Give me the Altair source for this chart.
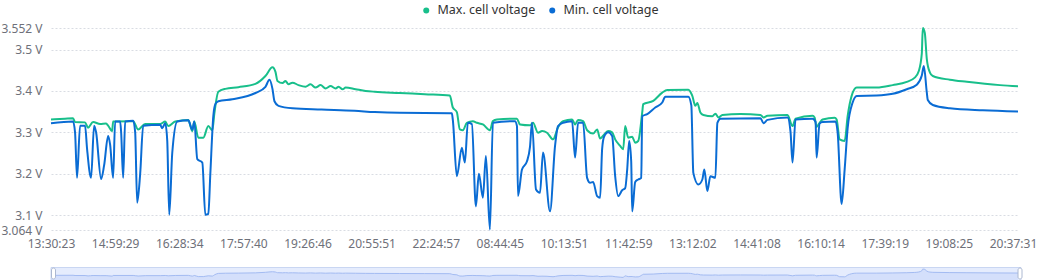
import altair as alt
import pandas as pd

FONT = "Noto Sans"

TIME_LABELS = ["13:30:23", "14:59:29", "16:28:34", "17:57:40", "19:26:46", "20:55:51",
               "22:24:57", "08:44:45", "10:13:51", "11:42:59", "13:12:02", "14:41:08",
               "16:10:14", "17:39:19", "19:08:25", "20:37:31"]
LABEL_STEP = 64          # samples between two time labels
X_MAX = 965              # last sample index
Y_MIN, Y_MAX = 3.064, 3.552
Y_TICKS = [3.064, 3.1, 3.2, 3.3, 3.4, 3.5, 3.552]

SERIES = ["Max. cell voltage", "Min. cell voltage"]
COLORS = ["#18bf8b", "#0a6cd4"]

MAX_IDX = [0, 14, 22, 24, 34, 37, 42, 49, 55, 57, 61, 62, 82, 87, 94, 109, 114, 117, 124, 137,
           141, 143, 147, 152, 157, 161, 163, 167, 174, 187, 204, 214, 221, 224, 226, 231, 234,
           237, 241, 247, 254, 259, 264, 269, 274, 279, 284, 287, 291, 294, 304, 314, 323, 348,
           373, 398, 401, 405, 408, 411, 415, 421, 425, 431, 438, 441, 445, 465, 468, 478, 481,
           486, 490, 495, 501, 506, 511, 520, 523, 526, 531, 535, 541, 545, 548, 551, 556, 560,
           563, 568, 571, 573, 576, 580, 583, 586, 590, 591, 601, 610, 615, 636, 640, 643, 645,
           648, 651, 660, 663, 666, 670, 688, 708, 711, 715, 735, 740, 743, 760, 762, 764, 767,
           770, 782, 784, 787, 792, 795, 799, 804, 824, 840, 854, 862, 866, 869, 870, 872, 874,
           877, 880, 897, 914, 947, 965]
MAX_V = [3.331, 3.333, 3.334, 3.325, 3.324, 3.311, 3.325, 3.320, 3.321, 3.316, 3.303, 3.326,
         3.327, 3.307, 3.320, 3.320, 3.326, 3.315, 3.326, 3.330, 3.303, 3.326, 3.287, 3.287,
         3.315, 3.305, 3.345, 3.398, 3.405, 3.409, 3.417, 3.436, 3.457, 3.446, 3.424, 3.419,
         3.424, 3.416, 3.420, 3.414, 3.410, 3.416, 3.408, 3.414, 3.406, 3.412, 3.406, 3.410,
         3.404, 3.408, 3.404, 3.400, 3.398, 3.395, 3.392, 3.389, 3.360, 3.349, 3.307, 3.305,
         3.323, 3.327, 3.323, 3.319, 3.305, 3.327, 3.331, 3.333, 3.319, 3.317, 3.323, 3.299,
         3.303, 3.299, 3.283, 3.312, 3.327, 3.331, 3.319, 3.330, 3.327, 3.305, 3.297, 3.307,
         3.285, 3.292, 3.303, 3.300, 3.283, 3.267, 3.259, 3.315, 3.287, 3.289, 3.275, 3.279,
         3.348, 3.368, 3.376, 3.396, 3.402, 3.403, 3.388, 3.364, 3.371, 3.348, 3.342, 3.339,
         3.345, 3.336, 3.342, 3.344, 3.342, 3.336, 3.340, 3.342, 3.315, 3.333, 3.340, 3.336,
         3.313, 3.323, 3.331, 3.335, 3.331, 3.283, 3.279, 3.339, 3.388, 3.408, 3.408, 3.414,
         3.422, 3.432, 3.448, 3.490, 3.552, 3.540, 3.477, 3.445, 3.436, 3.427, 3.422, 3.414,
         3.411]

MIN_IDX = [0, 22, 24, 26, 29, 34, 36, 40, 43, 45, 50, 53, 57, 59, 62, 64, 69, 70, 72, 74, 82,
           84, 86, 89, 92, 109, 111, 114, 116, 118, 121, 126, 137, 141, 143, 146, 151, 154, 157,
           159, 162, 164, 167, 181, 204, 214, 218, 221, 223, 227, 241, 270, 303, 323, 348, 398,
           400, 401, 405, 410, 413, 416, 420, 424, 427, 431, 434, 438, 441, 463, 465, 466, 470,
           475, 478, 480, 484, 488, 491, 498, 503, 506, 511, 520, 523, 526, 531, 535, 538, 541,
           545, 548, 550, 552, 556, 560, 563, 566, 570, 573, 575, 577, 579, 580, 583, 586, 589,
           590, 595, 603, 610, 613, 636, 639, 641, 646, 650, 652, 655, 658, 663, 665, 668, 708,
           711, 715, 735, 738, 740, 743, 760, 763, 764, 767, 770, 783, 785, 789, 792, 795, 800,
           804, 824, 840, 854, 864, 869, 871, 874, 875, 880, 897, 930, 965]
MIN_V = [3.322, 3.326, 3.300, 3.190, 3.316, 3.316, 3.260, 3.190, 3.316, 3.300, 3.187, 3.220,
         3.291, 3.270, 3.190, 3.326, 3.326, 3.300, 3.190, 3.326, 3.328, 3.300, 3.130, 3.200,
         3.316, 3.318, 3.310, 3.322, 3.280, 3.101, 3.250, 3.326, 3.329, 3.306, 3.326, 3.235,
         3.227, 3.101, 3.103, 3.200, 3.340, 3.368, 3.375, 3.380, 3.395, 3.410, 3.427, 3.405,
         3.375, 3.364, 3.358, 3.355, 3.352, 3.349, 3.347, 3.346, 3.346, 3.330, 3.194, 3.263,
         3.227, 3.323, 3.320, 3.121, 3.200, 3.142, 3.243, 3.065, 3.323, 3.327, 3.315, 3.146,
         3.210, 3.230, 3.265, 3.323, 3.162, 3.154, 3.251, 3.109, 3.267, 3.315, 3.323, 3.327,
         3.239, 3.323, 3.323, 3.190, 3.178, 3.180, 3.146, 3.142, 3.260, 3.290, 3.300, 3.291,
         3.194, 3.146, 3.160, 3.165, 3.210, 3.279, 3.230, 3.109, 3.180, 3.186, 3.190, 3.339,
         3.344, 3.360, 3.372, 3.386, 3.386, 3.365, 3.202, 3.174, 3.186, 3.210, 3.158, 3.194,
         3.190, 3.323, 3.333, 3.334, 3.322, 3.330, 3.336, 3.301, 3.227, 3.331, 3.333, 3.325,
         3.239, 3.321, 3.325, 3.326, 3.300, 3.127, 3.210, 3.310, 3.372, 3.388, 3.389, 3.393,
         3.404, 3.415, 3.437, 3.460, 3.396, 3.378, 3.366, 3.358, 3.353, 3.350]

df = pd.concat([
    pd.DataFrame({"idx": MAX_IDX, "v": MAX_V, "series": SERIES[0]}),
    pd.DataFrame({"idx": MIN_IDX, "v": MIN_V, "series": SERIES[1]}),
], ignore_index=True)

label_expr = "[" + ",".join("'%s'" % t for t in TIME_LABELS) + "][round(datum.value / %d)]" % LABEL_STEP

x_scale = alt.Scale(domain=[0, X_MAX], nice=False, zero=False)
x_axis = alt.Axis(values=[i * LABEL_STEP for i in range(len(TIME_LABELS))], labelExpr=label_expr,
                  grid=False, domain=False, ticks=False, tickSize=0, labelPadding=8,
                  labelFontSize=12, labelColor="#6e7079", labelFont=FONT, title=None,
                  labelOverlap=False, labelFlush=False)
y_scale = alt.Scale(domain=[Y_MIN, Y_MAX], nice=False, zero=False)
y_axis = alt.Axis(values=Y_TICKS, labelExpr="datum.value + ' V'", orient="left",
                  grid=True, gridDash=[2, 2], gridColor="#d9dce3", gridWidth=1,
                  domain=False, ticks=False, tickSize=0, labelPadding=9,
                  labelFontSize=12, labelColor="#6e7079", labelFont=FONT, title=None,
                  labelOverlap=False, labelFlush=False)
color_scale = alt.Scale(domain=SERIES, range=COLORS)

base = alt.Chart(df)

# one line per series, drawn Max first and Min on top
max_line = base.transform_filter(alt.datum.series == SERIES[0]).mark_line(
    strokeWidth=2, interpolate="monotone", color=COLORS[0]).encode(
    x=alt.X("idx:Q", scale=x_scale, axis=x_axis),
    y=alt.Y("v:Q", scale=y_scale, axis=y_axis))

min_line = base.transform_filter(alt.datum.series == SERIES[1]).mark_line(
    strokeWidth=2, interpolate="monotone", color=COLORS[1]).encode(
    x=alt.X("idx:Q", scale=x_scale),
    y=alt.Y("v:Q", scale=y_scale, axis=None))

# legend (filled circle symbols) from the color scale
legend_layer = base.transform_filter("datum.v > 100").mark_circle().encode(
    x=alt.X("idx:Q", scale=x_scale),
    y=alt.Y("v:Q", scale=y_scale, axis=None),
    color=alt.Color("series:N", scale=color_scale, legend=alt.Legend(
        orient="none", legendX=369, legendY=-24, direction="horizontal", title=None,
        symbolType="circle", symbolSize=36, symbolOpacity=1, symbolStrokeWidth=0,
        labelFontSize=12.5, labelColor="#333333", labelFont=FONT,
        columnPadding=10, labelOffset=5, padding=0)))

one = pd.DataFrame({"k": [0]})

slider_bg = alt.Chart(one).mark_rect(fill="#e5ecfd", stroke="#c9d6f2", strokeWidth=1).encode(
    x=alt.value(0), x2=alt.value(970), y=alt.value(239.5), y2=alt.value(262))

shadow_scale = alt.Scale(domain=[Y_MIN, Y_MAX], nice=False, zero=False, range=[255, 241])
shadow_src = base.transform_filter(alt.datum.series == SERIES[0])
shadow_area = shadow_src.mark_area(color="#8fb0f7", opacity=0.2, interpolate="monotone").encode(
    x=alt.X("idx:Q", scale=x_scale),
    y=alt.Y("v:Q", scale=shadow_scale, axis=None))
shadow_line = shadow_src.mark_line(color="#a3bbf2", strokeWidth=1, interpolate="monotone").encode(
    x=alt.X("idx:Q", scale=x_scale),
    y=alt.Y("v:Q", scale=shadow_scale, axis=None))

handle_l = alt.Chart(one).mark_rect(fill="#ffffff", stroke="#acb8d1", strokeWidth=1,
                                    cornerRadius=2).encode(
    x=alt.value(0.5), x2=alt.value(4.5), y=alt.value(240), y2=alt.value(251))
handle_r = alt.Chart(one).mark_rect(fill="#ffffff", stroke="#acb8d1", strokeWidth=1,
                                    cornerRadius=2).encode(
    x=alt.value(967), x2=alt.value(971), y=alt.value(240), y2=alt.value(251))

chart = alt.layer(
    slider_bg, shadow_area, shadow_line, handle_l, handle_r,
    max_line, min_line, legend_layer
).resolve_scale(y="independent").properties(
    width=967, height=202,
    autosize=alt.AutoSizeParams(type="none"),
    padding={"left": 51, "top": 28, "right": 32, "bottom": 50},
    background="#ffffff",
).configure_view(stroke="transparent")

chart.save("out.html", embed_options={"renderer": "svg", "actions": False})
